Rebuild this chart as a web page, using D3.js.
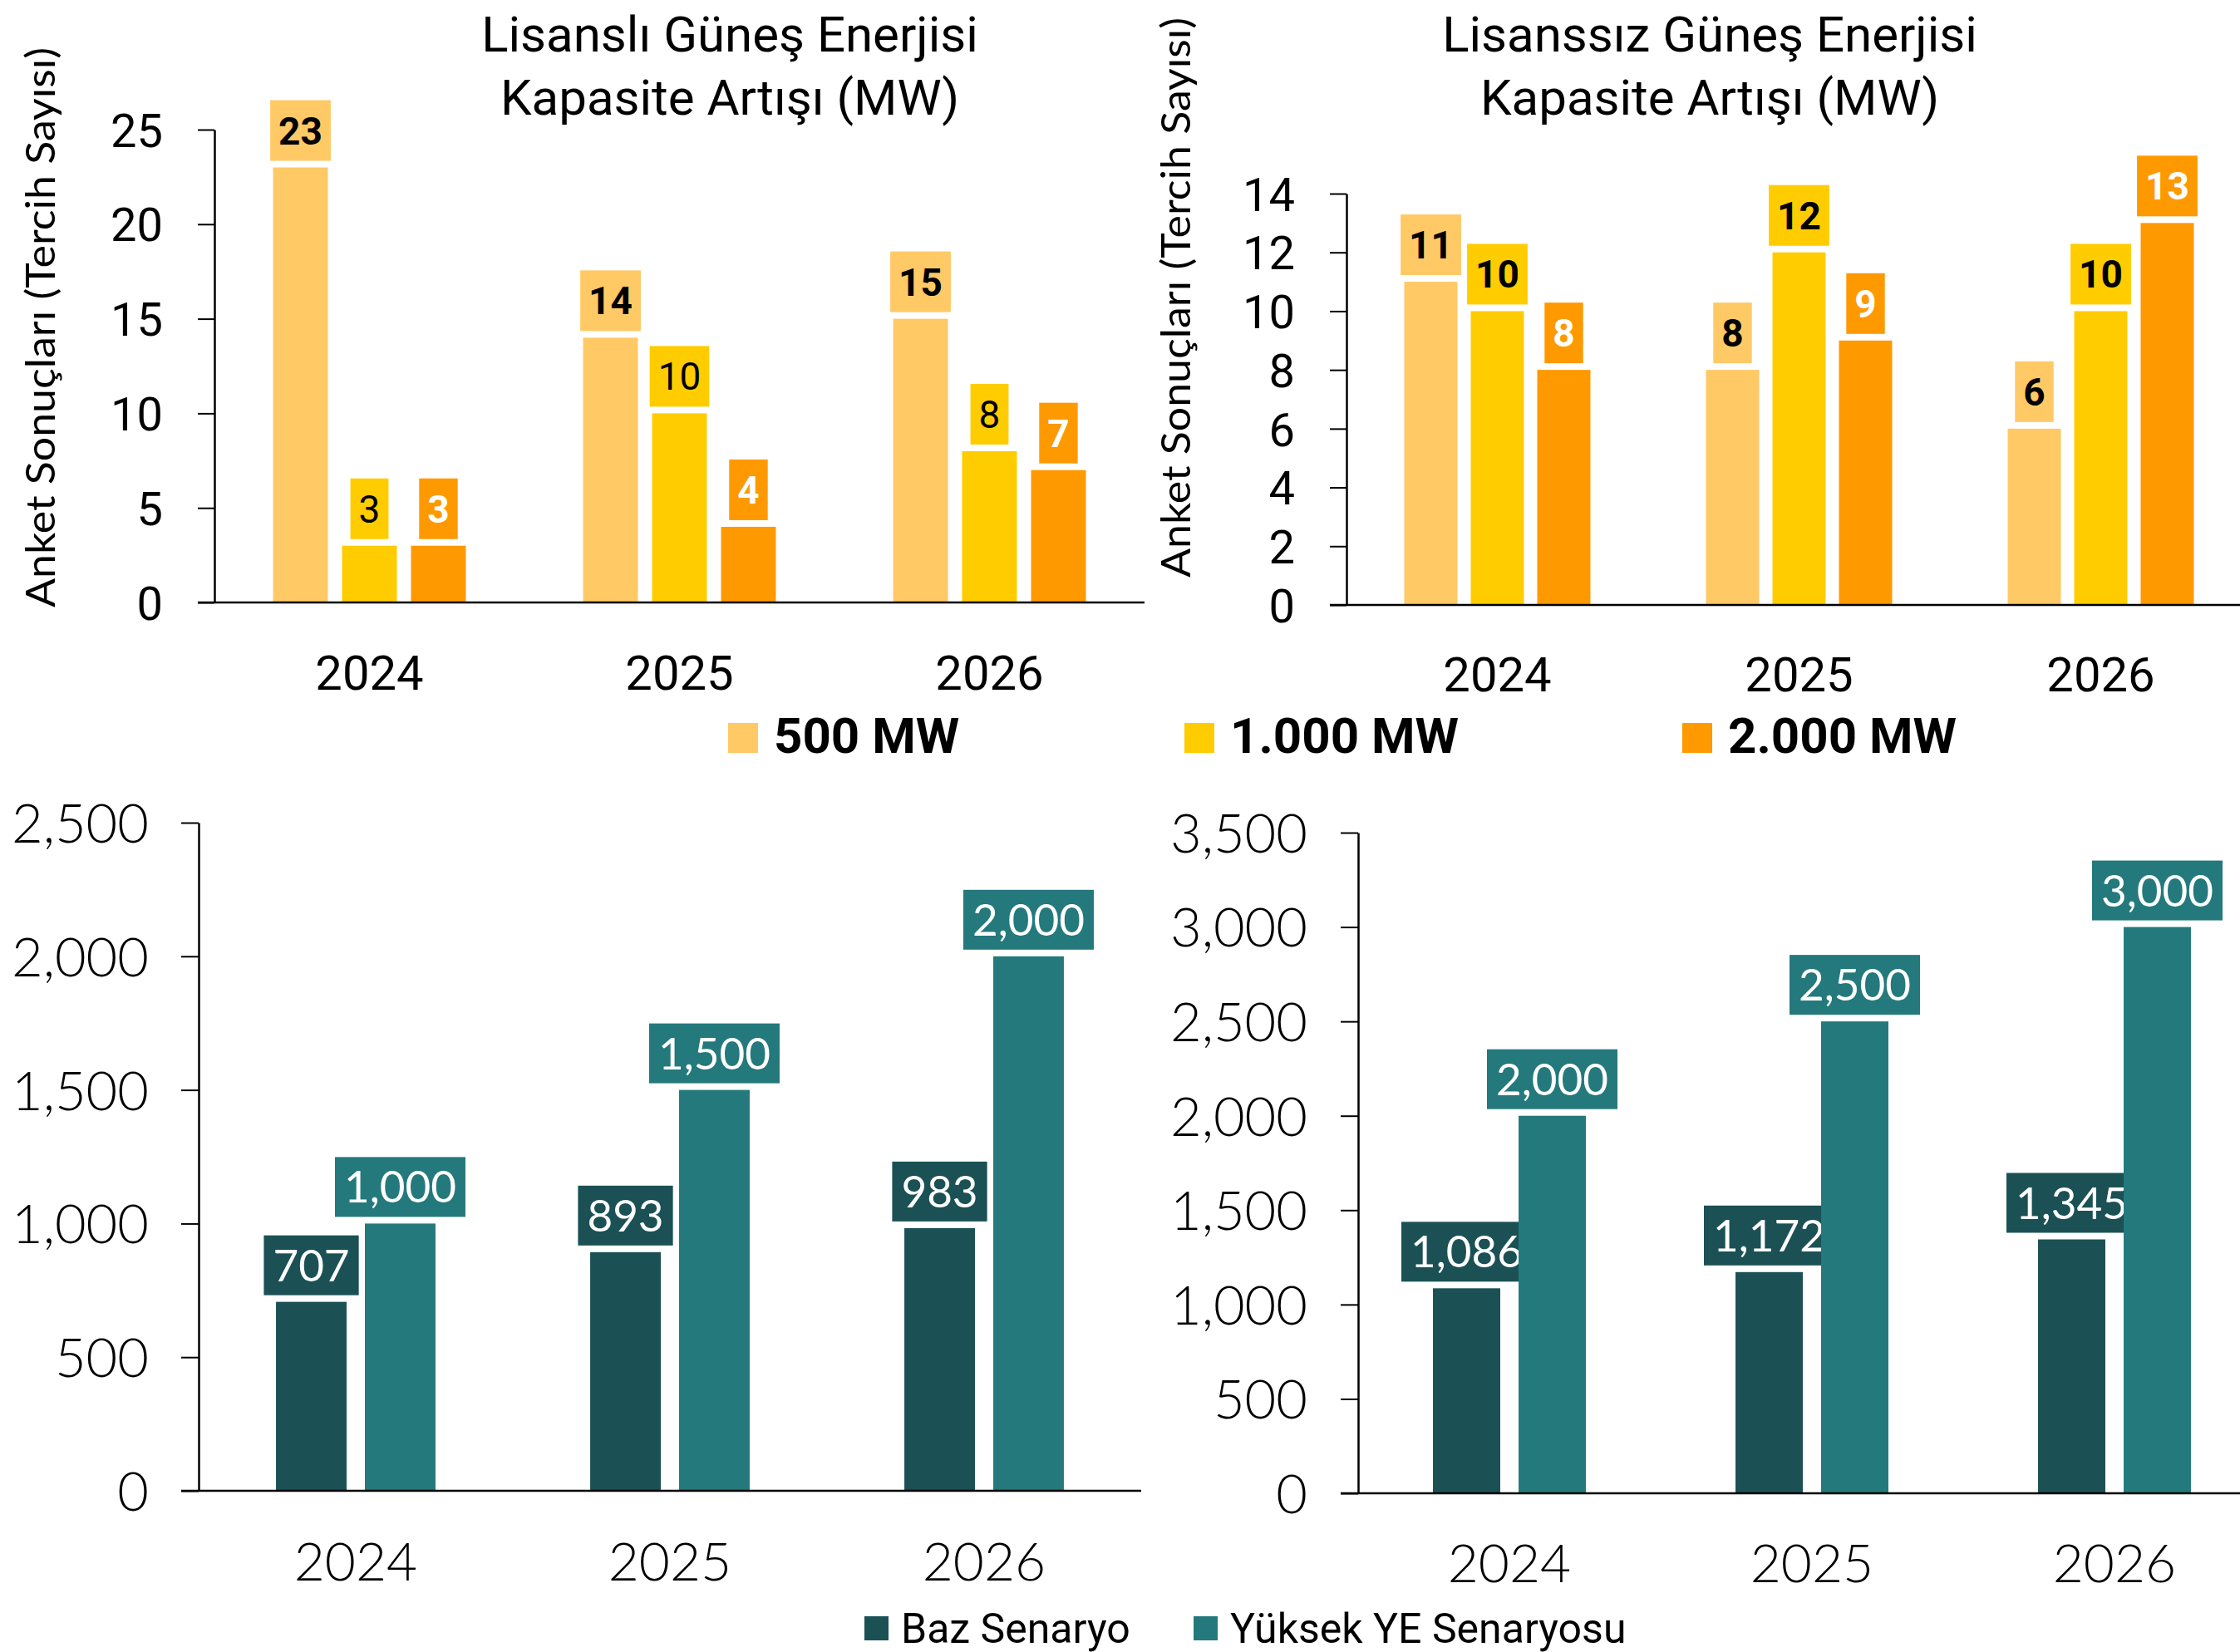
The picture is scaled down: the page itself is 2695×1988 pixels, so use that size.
<!DOCTYPE html>
<html>
<head>
<meta charset="utf-8">
<script src="https://cdn.jsdelivr.net/npm/d3@7"></script>
<style>
  body { margin: 0; background: #fff; }
  svg { display: block; }
</style>
</head>
<body>
<div id="chart"></div>
<script>
// data
var years = ["2024", "2025", "2026"];
var mwSeries = ["500 MW", "1.000 MW", "2.000 MW"];
var scenarioSeries = ["Baz Senaryo", "Yüksek YE Senaryosu"];

var lisansli500 = [23, 14, 15];
var lisansli1000 = [3, 10, 8];
var lisansli2000 = [3, 4, 7];

var lisanssiz500 = [11, 8, 6];
var lisanssiz1000 = [10, 12, 10];
var lisanssiz2000 = [8, 9, 13];

var bazLeft = [707, 893, 983];
var yuksekLeft = [1000, 1500, 2000];

var bazRight = [1086, 1172, 1345];
var yuksekRight = [2000, 2500, 3000];

var ticksLisansli = [0, 5, 10, 15, 20, 25];
var ticksLisanssiz = [0, 2, 4, 6, 8, 10, 12, 14];
var ticksBottomLeft = [0, 500, 1000, 1500, 2000, 2500];
var ticksBottomRight = [0, 500, 1000, 1500, 2000, 2500, 3000, 3500];

// colours
var cLight = "#FFC966", cYellow = "#FFCC00", cOrange = "#FF9900";
var cDark = "#1B5155", cTeal = "#24797C";

var svgWidth = 2695;
var svgHeight = 1988;

var svg = d3.select("#chart").append("svg")
  .attr("width", svgWidth)
  .attr("height", svgHeight);

var calibri = "Roboto, 'Liberation Sans', sans-serif";
var lato = "Lato, 'Open Sans', sans-serif";

function drawChart(cfg) {
  var g = svg.append("g");

  var y = d3.scaleLinear()
    .domain([0, d3.max(cfg.ticks)])
    .range([cfg.yBottom, cfg.yTop]);

  var x0 = d3.scaleBand()
    .domain(years)
    .range([cfg.xLeft, cfg.xLeft + cfg.step * years.length]);

  var x1 = d3.scaleBand()
    .domain(d3.range(cfg.series.length))
    .range([0, x0.bandwidth()])
    .paddingInner(cfg.padIn)
    .paddingOuter(cfg.padOut);

  // y axis
  var yAxis = g.append("g")
    .attr("transform", `translate(${cfg.xLeft}, 0)`)
    .call(d3.axisLeft(y).tickValues(cfg.ticks).tickSize(cfg.tickLen).tickSizeOuter(0)
      .tickFormat(cfg.fmt).tickPadding(cfg.tickPad));
  yAxis.select(".domain").attr("stroke", "#000").attr("stroke-width", 2.5);
  yAxis.selectAll(".tick line").attr("stroke", "#000").attr("stroke-width", 2);
  yAxis.selectAll(".tick text")
    .attr("font-family", cfg.tickFont)
    .attr("font-weight", cfg.tickWeight)
    .attr("font-size", cfg.tickSize)
    .attr("fill", "#000")
    .attr("dy", "0.36em");

  // bars
  cfg.series.forEach(function(s, i) {
    g.selectAll(".bar" + i)
      .data(s.values)
      .enter()
      .append("rect")
      .attr("x", (d, j) => x0(years[j]) + x1(i))
      .attr("y", d => y(d))
      .attr("width", x1.bandwidth())
      .attr("height", d => y(0) - y(d))
      .attr("fill", s.color);

    // labels in boxes
    s.values.forEach(function(d, j) {
      var cx = x0(years[j]) + x1(i) + x1.bandwidth() / 2;
      var boxBottom = y(d) - cfg.gap;
      var lg = g.append("g");
      var rect = lg.append("rect").attr("fill", s.color);
      var t = lg.append("text")
        .attr("x", cx)
        .attr("y", boxBottom - cfg.boxH / 2)
        .attr("dy", "0.36em")
        .attr("text-anchor", "middle")
        .attr("font-family", cfg.labelFont)
        .attr("font-weight", s.weight)
        .attr("font-size", cfg.labelSize)
        .attr("fill", s.textColor)
        .text(cfg.fmt(d));
      var w = t.node().getComputedTextLength() + cfg.boxPad * 2;
      rect.attr("x", cx - w / 2)
        .attr("y", boxBottom - cfg.boxH)
        .attr("width", w)
        .attr("height", cfg.boxH);
    });
  });

  // x baseline
  g.append("line")
    .attr("x1", cfg.xLeft - cfg.tickLen)
    .attr("x2", Math.min(x0.range()[1], svgWidth))
    .attr("y1", y(0))
    .attr("y2", y(0))
    .attr("stroke", "#000")
    .attr("stroke-width", 2.5);

  // x labels
  g.selectAll(".xlab")
    .data(years)
    .enter()
    .append("text")
    .attr("x", d => x0(d) + x0.bandwidth() / 2)
    .attr("y", cfg.xLabelY)
    .attr("text-anchor", "middle")
    .attr("font-family", cfg.xFont)
    .attr("font-weight", cfg.xWeight)
    .attr("font-size", cfg.xSize)
    .attr("fill", "#000")
    .text(d => d);

  // title
  if (cfg.title) {
    cfg.title.forEach(function(line, k) {
      g.append("text")
        .attr("x", cfg.titleX)
        .attr("y", cfg.titleY + k * 76)
        .attr("text-anchor", "middle")
        .attr("font-family", calibri)
        .attr("font-size", 60)
        .attr("fill", "#000")
        .text(line);
    });
  }

  if (cfg.yTitle) {
    g.append("text")
      .attr("transform", `translate(${cfg.yTitleX}, ${cfg.yTitleY}) rotate(-90)`)
      .attr("text-anchor", "middle")
      .attr("font-family", lato)
      .attr("font-size", 48)
      .attr("textLength", 674)
      .attr("lengthAdjust", "spacingAndGlyphs")
      .attr("fill", "#000")
      .text(cfg.yTitle);
  }
}

var intFmt = d3.format("d");
var commaFmt = d3.format(",");

// top left
drawChart({
  xLeft: 258, step: 373, yBottom: 725, yTop: 156,
  ticks: ticksLisansli, fmt: intFmt,
  padIn: 0.205, padOut: 0.85,
  tickLen: 20, tickPad: 42, tickFont: calibri, tickWeight: 400, tickSize: 56,
  labelFont: calibri, labelSize: 46, boxH: 73, boxPad: 10, gap: 8,
  xLabelY: 830, xFont: calibri, xWeight: 400, xSize: 58,
  title: ["Lisanslı Güneş Enerjisi", "Kapasite Artışı (MW)"], titleX: 878, titleY: 62,
  yTitle: "Anket Sonuçları (Tercih Sayısı)", yTitleX: 66, yTitleY: 394,
  series: [
    { values: lisansli500, color: cLight, textColor: "#000", weight: 700 },
    { values: lisansli1000, color: cYellow, textColor: "#000", weight: 400 },
    { values: lisansli2000, color: cOrange, textColor: "#fff", weight: 700 }
  ]
});

// top right
drawChart({
  xLeft: 1620, step: 363, yBottom: 728, yTop: 233,
  ticks: ticksLisanssiz, fmt: intFmt,
  padIn: 0.2, padOut: 0.869,
  tickLen: 20, tickPad: 42, tickFont: calibri, tickWeight: 400, tickSize: 56,
  labelFont: calibri, labelSize: 46, boxH: 73, boxPad: 10, gap: 8,
  xLabelY: 832, xFont: calibri, xWeight: 400, xSize: 58,
  title: ["Lisanssız Güneş Enerjisi", "Kapasite Artışı (MW)"], titleX: 2057, titleY: 62,
  yTitle: "Anket Sonuçları (Tercih Sayısı)", yTitleX: 1432, yTitleY: 358,
  series: [
    { values: lisanssiz500, color: cLight, textColor: "#000", weight: 700 },
    { values: lisanssiz1000, color: cYellow, textColor: "#000", weight: 700 },
    { values: lisanssiz2000, color: cOrange, textColor: "#fff", weight: 700 }
  ]
});

// bottom left
drawChart({
  xLeft: 239, step: 378, yBottom: 1794, yTop: 990,
  ticks: ticksBottomLeft, fmt: commaFmt,
  padIn: 0.206, padOut: 0.87,
  tickLen: 21, tickPad: 39, tickFont: lato, tickWeight: 300, tickSize: 65,
  labelFont: lato, labelSize: 53, boxH: 72, boxPad: 11, gap: 8,
  xLabelY: 1902, xFont: lato, xWeight: 300, xSize: 64,
  series: [
    { values: bazLeft, color: cDark, textColor: "#fff", weight: 400 },
    { values: yuksekLeft, color: cTeal, textColor: "#fff", weight: 400 }
  ]
});

// bottom right
drawChart({
  xLeft: 1634, step: 364, yBottom: 1797, yTop: 1002,
  ticks: ticksBottomRight, fmt: commaFmt,
  padIn: 0.214, padOut: 0.874,
  tickLen: 21, tickPad: 40, tickFont: lato, tickWeight: 300, tickSize: 65,
  labelFont: lato, labelSize: 53, boxH: 72, boxPad: 11, gap: 8,
  xLabelY: 1904, xFont: lato, xWeight: 300, xSize: 64,
  series: [
    { values: bazRight, color: cDark, textColor: "#fff", weight: 400 },
    { values: yuksekRight, color: cTeal, textColor: "#fff", weight: 400 }
  ]
});

// legend for the survey charts
var mwColors = [cLight, cYellow, cOrange];
var mwLegendX = [876, 1425, 2024];
var legTop = svg.append("g");
mwSeries.forEach(function(name, i) {
  legTop.append("rect")
    .attr("x", mwLegendX[i]).attr("y", 870)
    .attr("width", 36).attr("height", 36)
    .attr("fill", mwColors[i]);
  legTop.append("text")
    .attr("x", mwLegendX[i] + 55).attr("y", 906)
    .attr("font-family", calibri)
    .attr("font-weight", 700)
    .attr("font-size", 60)
    .attr("fill", "#000")
    .text(name);
});

// legend for the scenario charts
var scColors = [cDark, cTeal];
var scLegendX = [1040, 1436];
var legBottom = svg.append("g");
scenarioSeries.forEach(function(name, i) {
  legBottom.append("rect")
    .attr("x", scLegendX[i]).attr("y", 1945)
    .attr("width", 29).attr("height", 29)
    .attr("fill", scColors[i]);
  legBottom.append("text")
    .attr("x", scLegendX[i] + 44).attr("y", 1977)
    .attr("font-family", calibri)
    .attr("font-size", 50)
    .attr("fill", "#000")
    .text(name);
});
</script>
</body>
</html>
